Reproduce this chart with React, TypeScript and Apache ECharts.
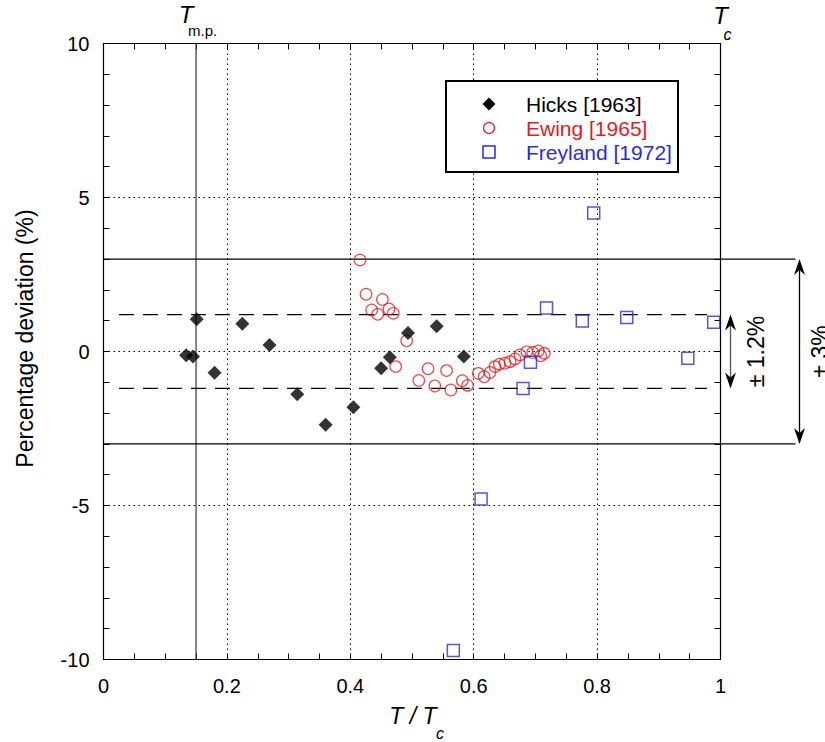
import React, { useEffect, useRef } from "react";
import * as echarts from "echarts";

// Reduced temperature T/Tc and percentage deviation for each data set
const hicksT = [0.134, 0.145, 0.151, 0.18, 0.225, 0.269, 0.314, 0.36, 0.405, 0.45, 0.464, 0.4935, 0.54, 0.584];
const hicksDev = [-0.12, -0.16, 1.05, -0.69, 0.9, 0.21, -1.39, -2.38, -1.81, -0.54, -0.19, 0.6, 0.82, -0.16];

const ewingT = [
  0.4157, 0.4255, 0.452, 0.4346, 0.4444, 0.4627, 0.4697, 0.4914, 0.4735, 0.511, 0.526, 0.537, 0.556, 0.563, 0.5815,
  0.59, 0.6075, 0.617, 0.6264, 0.6345, 0.6415, 0.6507, 0.659, 0.667, 0.675, 0.686, 0.6956, 0.7047, 0.7086, 0.7145,
];
const ewingDev = [
  2.97, 1.86, 1.69, 1.35, 1.21, 1.38, 1.24, 0.35, -0.49, -0.94, -0.56, -1.12, -0.62, -1.25, -0.95, -1.1, -0.71, -0.82,
  -0.68, -0.49, -0.41, -0.38, -0.33, -0.24, -0.11, -0.01, -0.03, 0.02, -0.14, -0.06,
];

const freylandT = [0.567, 0.612, 0.68, 0.692, 0.718, 0.776, 0.7945, 0.848, 0.947, 0.989];
const freylandDev = [-9.71, -4.79, -1.2, -0.35, 1.41, 0.99, 4.5, 1.1, -0.22, 0.95];

// Reference values
const meltingPoint = 0.15;
const innerBand = 1.2;
const outerBand = 3;
const innerBandStart = 0.025;
const innerBandEnd = 0.978;

const legendNames = ["Hicks [1963]", "Ewing [1965]", "Freyland [1972]"];
const xTickValues = [0, 0.2, 0.4, 0.6, 0.8, 1];
const xTickLabels = ["0", "0.2", "0.4", "0.6", "0.8", "1"];

const FONT = "'Liberation Sans', Arial, Helvetica, sans-serif";
const RED = "#e8191e";
const BLUE = "#2b2bdc";

const zip = (a: number[], b: number[]) => a.map((v, i) => [v, b[i]]);

export default function App() {
  const ref = useRef<HTMLDivElement>(null);

  useEffect(() => {
    const chart = echarts.init(ref.current!, null, { renderer: "svg" });

    const tickLine = { inside: true, length: 6, lineStyle: { color: "#000", width: 1 } };
    const axisLine = { show: true, onZero: false, lineStyle: { color: "#000", width: 1.2 } };
    const dotted = { show: true, lineStyle: { color: "#000", width: 1, type: [1.5, 3.5] } };

    chart.setOption({
      animation: false,
      backgroundColor: "#fff",
      textStyle: { fontFamily: FONT },
      grid: { left: 103.5, right: 104.5, top: 43.5, bottom: 82.5, containLabel: false },
      xAxis: [
        {
          type: "value",
          position: "bottom",
          min: 0,
          max: 1,
          interval: 0.2,
          axisLine,
          axisTick: tickLine,
          minorTick: { show: true, splitNumber: 4, length: 6, lineStyle: { color: "#000" } },
          splitLine: dotted,
          axisLabel: {
            margin: 16,
            fontSize: 20,
            color: "#000",
            fontFamily: FONT,
            formatter: (v: number) => {
              const i = xTickValues.findIndex((t) => Math.abs(t - v) < 1e-6);
              return i >= 0 ? xTickLabels[i] : "";
            },
          },
        },
        {
          type: "value",
          position: "top",
          min: 0,
          max: 1,
          interval: 0.2,
          axisLine,
          axisTick: tickLine,
          minorTick: { show: true, splitNumber: 4, length: 6, lineStyle: { color: "#000" } },
          splitLine: { show: false },
          axisLabel: { show: false },
        },
      ],
      yAxis: [
        {
          type: "value",
          position: "left",
          min: -10,
          max: 10,
          interval: 5,
          axisLine,
          axisTick: tickLine,
          minorTick: { show: true, splitNumber: 5, length: 6, lineStyle: { color: "#000" } },
          splitLine: dotted,
          axisLabel: { margin: 14, fontSize: 20, color: "#000", fontFamily: FONT },
        },
        {
          type: "value",
          position: "right",
          min: -10,
          max: 10,
          interval: 5,
          axisLine,
          axisTick: tickLine,
          minorTick: { show: true, splitNumber: 5, length: 6, lineStyle: { color: "#000" } },
          splitLine: { show: false },
          axisLabel: { show: false },
        },
      ],
      series: [
        {
          name: legendNames[1],
          type: "scatter",
          data: zip(ewingT, ewingDev),
          symbol: "circle",
          symbolSize: 11.5,
          itemStyle: { color: "transparent", borderColor: RED, borderWidth: 1.2 },
          z: 3,
        },
        {
          name: legendNames[2],
          type: "scatter",
          data: zip(freylandT, freylandDev),
          symbol: "rect",
          symbolSize: 12,
          itemStyle: { color: "transparent", borderColor: BLUE, borderWidth: 1.5 },
          z: 3,
        },
        {
          name: legendNames[0],
          type: "scatter",
          data: zip(hicksT, hicksDev),
          symbol: "diamond",
          symbolSize: 14,
          itemStyle: { color: "#000" },
          z: 4,
        },
      ],
    });

    const px = (x: number, y: number) => chart.convertToPixel({ xAxisIndex: 0, yAxisIndex: 0 }, [x, y]) as number[];
    const [x0, yTop] = px(0, 10);
    const [x1, yBottom] = px(1, -10);
    const [xMp] = px(meltingPoint, 0);
    const yZero = px(0, 0)[1];

    const g: any[] = [];

    // melting-point line
    g.push({
      type: "line",
      z: 2,
      shape: { x1: xMp, y1: yTop, x2: xMp, y2: yBottom },
      style: { stroke: "#333", lineWidth: 1.2 },
    });

    // ±3 % solid lines, running past the plot to the arrow
    [outerBand, -outerBand].forEach((v) => {
      const y = px(0, v)[1];
      g.push({ type: "line", z: 2, shape: { x1: x0, y1: y, x2: x1 + 75, y2: y }, style: { stroke: "#000", lineWidth: 1.2 } });
    });

    // ±1.2 % dashed lines
    [innerBand, -innerBand].forEach((v) => {
      const a = px(innerBandStart, v);
      const b = px(innerBandEnd, v);
      g.push({
        type: "line",
        z: 2,
        shape: { x1: a[0], y1: a[1], x2: b[0], y2: b[1] },
        style: { stroke: "#000", lineWidth: 1.2, lineDash: [15, 9] },
      });
    });

    // double-headed arrows
    const arrow = (x: number, yA: number, yB: number, color: string) => {
      const head = 16;
      const half = 5.5;
      const notch = 11;
      g.push({ type: "line", z: 5, shape: { x1: x, y1: yA + notch, x2: x, y2: yB - notch }, style: { stroke: color, lineWidth: 1.3 } });
      g.push({
        type: "polygon",
        z: 5,
        shape: { points: [[x, yA], [x - half, yA + head], [x, yA + notch], [x + half, yA + head]] },
        style: { fill: "#000" },
      });
      g.push({
        type: "polygon",
        z: 5,
        shape: { points: [[x, yB], [x - half, yB - head], [x, yB - notch], [x + half, yB - head]] },
        style: { fill: "#000" },
      });
    };
    arrow(x1 + 10, px(0, innerBand)[1], px(0, -innerBand)[1], "#555");
    arrow(x1 + 79, px(0, outerBand)[1], px(0, -outerBand)[1], "#000");

    g.push({
      type: "text",
      z: 5,
      x: x1 + 35,
      y: yZero,
      rotation: Math.PI / 2,
      style: { text: "± 1.2%", fontSize: 23, fontFamily: FONT, fill: "#000", align: "center", verticalAlign: "middle" },
    });
    g.push({
      type: "text",
      z: 5,
      x: x1 + 99,
      y: yZero,
      rotation: Math.PI / 2,
      style: { text: "± 3%", fontSize: 23, fontFamily: FONT, fill: "#000", align: "center", verticalAlign: "middle" },
    });

    // top labels: T_m.p. and T_c
    g.push({
      type: "text",
      x: xMp - 10,
      y: 14,
      style: { text: "T", fontSize: 24, fontStyle: "italic", fontFamily: FONT, fill: "#000", align: "center", verticalAlign: "middle" },
    });
    g.push({
      type: "text",
      x: xMp - 8,
      y: 30,
      style: { text: "m.p.", fontSize: 15, fontFamily: FONT, fill: "#000", align: "left", verticalAlign: "middle" },
    });
    g.push({
      type: "text",
      x: x1,
      y: 15,
      style: { text: "T", fontSize: 24, fontStyle: "italic", fontFamily: FONT, fill: "#000", align: "center", verticalAlign: "middle" },
    });
    g.push({
      type: "text",
      x: x1 + 3,
      y: 34,
      style: { text: "c", fontSize: 16, fontStyle: "italic", fontFamily: FONT, fill: "#000", align: "left", verticalAlign: "middle" },
    });

    // axis titles
    const xMid = (x0 + x1) / 2;
    g.push({
      type: "text",
      x: xMid + 1,
      y: 716,
      style: { text: "T / T", fontSize: 23, fontStyle: "italic", fontFamily: FONT, fill: "#000", align: "center", verticalAlign: "middle" },
    });
    g.push({
      type: "text",
      x: xMid + 24,
      y: 733,
      style: { text: "c", fontSize: 16, fontStyle: "italic", fontFamily: FONT, fill: "#000", align: "left", verticalAlign: "middle" },
    });
    g.push({
      type: "text",
      x: 25,
      y: (yTop + yBottom) / 2 - 13,
      rotation: Math.PI / 2,
      style: { text: "Percentage deviation (%)", fontSize: 23, fontFamily: FONT, fill: "#000", align: "center", verticalAlign: "middle" },
    });

    // legend box
    const lx = 446;
    const ly = 81;
    g.push({
      type: "rect",
      z: 10,
      shape: { x: lx, y: ly, width: 232, height: 91 },
      style: { fill: "#fff", stroke: "#000", lineWidth: 2 },
    });
    const mx = lx + 43;
    const tx = lx + 80;
    const rows = [ly + 23, ly + 47, ly + 71];
    g.push({
      type: "polygon",
      z: 11,
      shape: { points: [[mx, rows[0] - 6.5], [mx + 6.5, rows[0]], [mx, rows[0] + 6.5], [mx - 6.5, rows[0]]] },
      style: { fill: "#000" },
    });
    g.push({ type: "circle", z: 11, shape: { cx: mx, cy: rows[1], r: 5.5 }, style: { fill: "none", stroke: RED, lineWidth: 1.2 } });
    g.push({
      type: "rect",
      z: 11,
      shape: { x: mx - 6, y: rows[2] - 6, width: 12, height: 12 },
      style: { fill: "none", stroke: BLUE, lineWidth: 1.5 },
    });
    const colors = ["#000", RED, BLUE];
    legendNames.forEach((name, i) => {
      g.push({
        type: "text",
        z: 11,
        x: tx,
        y: rows[i],
        style: { text: name, fontSize: 21, fontFamily: FONT, fill: colors[i], align: "left", verticalAlign: "middle" },
      });
    });

    chart.setOption({ graphic: g });

    return () => chart.dispose();
  }, []);

  return (
    <div
      ref={ref}
      style={{ position: "fixed", left: 0, top: 0, width: 825, height: 742, background: "#fff" }}
    />
  );
}
